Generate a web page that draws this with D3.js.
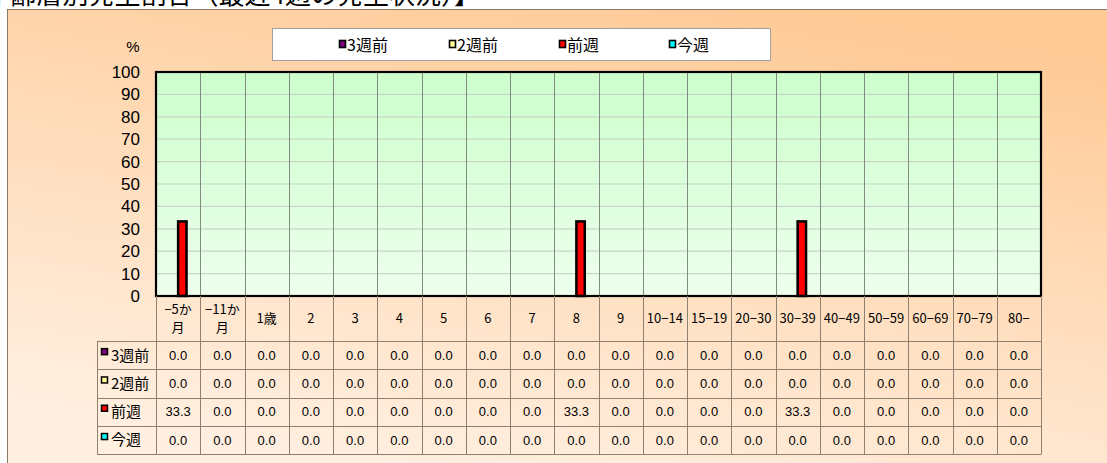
<!DOCTYPE html>
<html><head><meta charset="utf-8">
<script src="https://cdn.jsdelivr.net/npm/d3@7"></script>
<style>body{margin:0;background:#fff;} svg{display:block}</style>
</head><body><svg id="c" width="1107" height="463"></svg>
<script>
const titleText = "【年齢層別発生割合（最近4週の発生状況）】";
const categories = ["−5か\n月","−11か\n月","1歳","2","3","4","5","6","7","8","9","10−14","15−19","20−30","30−39","40−49","50−59","60−69","70−79","80−"];
const seriesNames = ["3週前","2週前","前週","今週"];
const seriesColors = ["#800080","#FFFF99","#FF0000","#00FFFF"];
const values3WeeksAgo = [0,0,0,0,0,0,0,0,0,0,0,0,0,0,0,0,0,0,0,0];
const values2WeeksAgo = [0,0,0,0,0,0,0,0,0,0,0,0,0,0,0,0,0,0,0,0];
const valuesLastWeek  = [33.3,0,0,0,0,0,0,0,0,33.3,0,0,0,0,33.3,0,0,0,0,0];
const valuesThisWeek  = [0,0,0,0,0,0,0,0,0,0,0,0,0,0,0,0,0,0,0,0];
const yTicks = [0,10,20,30,40,50,60,70,80,90,100];
const yUnit = "%";

const seriesValues = [values3WeeksAgo, values2WeeksAgo, valuesLastWeek, valuesThisWeek];
const series = seriesNames.map((n,i)=>({name:n,color:seriesColors[i],values:seriesValues[i]}));

const svg = d3.select("#c");
const defs = svg.append("defs");
const bg = defs.append("linearGradient").attr("id","bg").attr("x1","0.7").attr("y1","0").attr("x2","0.3").attr("y2","1");
bg.append("stop").attr("offset","0").attr("stop-color","#FFCA96");
bg.append("stop").attr("offset","0.45").attr("stop-color","#FFDCBA");
bg.append("stop").attr("offset","1").attr("stop-color","#FFF0E2");
const pg = defs.append("linearGradient").attr("id","pg").attr("x1","0").attr("y1","0").attr("x2","0").attr("y2","1");
pg.append("stop").attr("offset","0").attr("stop-color","#CCFFCC");
pg.append("stop").attr("offset","1").attr("stop-color","#EDFFED");

const L=156, R=1041, T=72, B=296;
const sansCJK = "'Noto Sans CJK JP', sans-serif";
const arial = "'Liberation Sans', Arial, sans-serif";

// chart background
svg.append("rect").attr("x",7.5).attr("y",9.5).attr("width",1107).attr("height",463)
  .attr("fill","url(#bg)").attr("stroke","#8a7a6a").attr("stroke-width",1);

// title (clipped at top, as in the reference)
svg.append("text").attr("x",480).attr("y",4).attr("text-anchor","end")
  .attr("font-family",sansCJK).attr("font-size",26).attr("fill","#000").text(titleText);

const x = d3.scaleBand().domain(d3.range(categories.length)).range([L,R]).padding(0);
const xs = d3.scaleBand().domain(seriesNames).range([0,x.bandwidth()]).paddingInner(0).paddingOuter(0.63);
const y = d3.scaleLinear().domain([0,100]).range([B,T]);

// plot area
svg.append("rect").attr("x",L).attr("y",T).attr("width",R-L).attr("height",B-T).attr("fill","url(#pg)");
svg.append("g").selectAll("line").data(yTicks.filter(t=>t>0&&t<100)).join("line")
  .attr("x1",L).attr("x2",R).attr("y1",d=>y(d)).attr("y2",d=>y(d))
  .attr("stroke","#c8d6c8").attr("stroke-width",1.2);
svg.append("g").selectAll("line").data(d3.range(1,categories.length)).join("line")
  .attr("x1",d=>Math.round(x(d))+0.5).attr("x2",d=>Math.round(x(d))+0.5).attr("y1",T).attr("y2",B)
  .attr("stroke","#7f8c7f").attr("stroke-width",1);

// bars
const bars = [];
series.forEach(s=>s.values.forEach((v,i)=>bars.push({s,v,i})));
svg.append("g").selectAll("rect").data(bars.filter(d=>d.v>0)).join("rect")
  .attr("x",d=>x(d.i)+xs(d.s.name)).attr("width",xs.bandwidth())
  .attr("y",d=>y(d.v)).attr("height",d=>y(0)-y(d.v))
  .attr("fill",d=>d.s.color).attr("stroke","#000").attr("stroke-width",2.5);

// plot border
svg.append("rect").attr("x",L).attr("y",T).attr("width",R-L).attr("height",B-T)
  .attr("fill","none").attr("stroke","#000").attr("stroke-width",2.2);

// y axis
const yAxis = d3.axisLeft(y).tickValues(yTicks).tickSize(0).tickPadding(16).tickFormat(d3.format("d"));
const ga = svg.append("g").attr("transform",`translate(${L},0)`).call(yAxis);
ga.select(".domain").remove();
ga.selectAll("text").attr("font-family",arial).attr("font-size",17).attr("fill","#000");
svg.append("text").attr("x",133).attr("y",52).attr("text-anchor","middle")
  .attr("font-family",arial).attr("font-size",15).attr("fill","#000").text(yUnit);

// legend
const lg = svg.append("g");
lg.append("rect").attr("x",272.5).attr("y",28.5).attr("width",498).attr("height",32)
  .attr("fill","#fff").attr("stroke","#a0a0a0").attr("stroke-width",1);
const legX = d3.scalePoint().domain(seriesNames).range([339,669]);
const li = lg.selectAll("g").data(series).join("g").attr("transform",d=>`translate(${legX(d.name)},0)`);
li.append("rect").attr("x",0.5).attr("y",40.5).attr("width",6).attr("height",7)
  .attr("fill",d=>d.color).attr("stroke","#000").attr("stroke-width",1.6);
li.append("text").attr("x",8).attr("y",45).attr("dy","0.36em")
  .attr("font-family",sansCJK).attr("font-size",16).attr("fill","#000").text(d=>d.name);

// data table
const tL = 97, hTop = B, hBot = 341, rowH = 28.3;
const rowY = i => hBot + i*rowH;
const tb = svg.append("g");
const lineCol = "#8f8070";
tb.selectAll("line.v").data(d3.range(0,categories.length+1)).join("line").attr("class","v")
  .attr("x1",d=>Math.round(d<categories.length?x(d):R)+0.5).attr("x2",d=>Math.round(d<categories.length?x(d):R)+0.5)
  .attr("y1",hTop).attr("y2",rowY(4)).attr("stroke",lineCol).attr("stroke-width",1);
tb.append("line").attr("x1",tL+0.5).attr("x2",tL+0.5).attr("y1",hBot).attr("y2",rowY(4)).attr("stroke",lineCol);
tb.selectAll("line.h").data(d3.range(0,5)).join("line").attr("class","h")
  .attr("x1",tL).attr("x2",R+0.5).attr("y1",d=>Math.round(rowY(d))+0.5).attr("y2",d=>Math.round(rowY(d))+0.5)
  .attr("stroke",lineCol).attr("stroke-width",1);
const hdr = tb.selectAll("text.hd").data(categories).join("text").attr("class","hd")
  .attr("x",(d,i)=>x(i)+x.bandwidth()/2).attr("text-anchor","middle")
  .attr("font-family",sansCJK).attr("font-size",13).attr("fill","#000");
hdr.each(function(d){
  const lines = d.split("\n");
  const cy = (hTop+hBot)/2;
  const t = d3.select(this);
  lines.forEach((ln,k)=>{
    t.append("tspan").attr("x",t.attr("x")).attr("y",cy + (k-(lines.length-1)/2)*18).attr("dy","0.36em").text(ln);
  });
});
series.forEach((s,r)=>{
  const cy = rowY(r)+rowH/2;
  tb.append("rect").attr("x",101.5).attr("y",cy-6.5).attr("width",6).attr("height",6)
    .attr("fill",s.color).attr("stroke","#000").attr("stroke-width",1.5);
  tb.append("text").attr("x",111).attr("y",cy).attr("dy","0.36em")
    .attr("font-family",sansCJK).attr("font-size",15).attr("fill","#000").text(s.name);
  tb.selectAll(null).data(s.values).join("text")
    .attr("x",(d,i)=>x(i)+x.bandwidth()/2).attr("y",cy).attr("dy","0.36em").attr("text-anchor","middle")
    .attr("font-family",arial).attr("font-size",13).attr("fill","#000").text(d=>d3.format(".1f")(d));
});
</script></body></html>
